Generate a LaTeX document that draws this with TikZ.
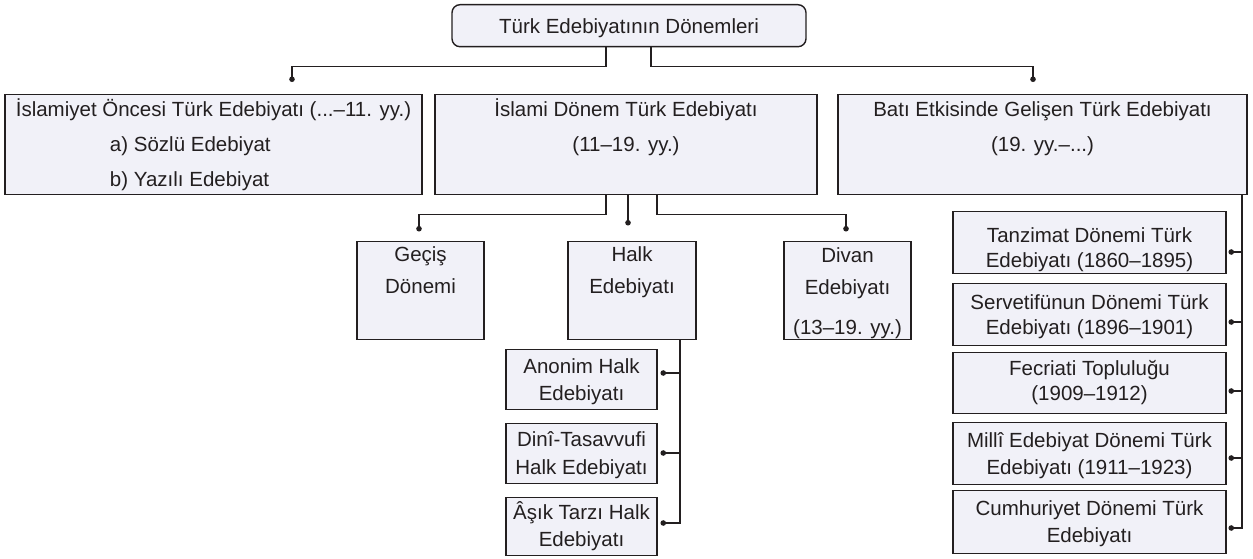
\documentclass[tikz,border=0pt]{standalone}
\usepackage{fontspec}
\setmainfont{Liberation Sans}
\usetikzlibrary{arrows.meta}

\definecolor{zemin}{RGB}{241,241,248}
\definecolor{murekkep}{RGB}{35,31,32}

\tikzset{
  kutu/.style={draw=murekkep, fill=zemin, line width=1.4pt, anchor=north, align=center,
    inner xsep=0pt, inner ysep=0pt, text=murekkep},
  satir/.style={font=\fontsize{20.5}{#1}\selectfont},
  bag/.style={draw=murekkep, line width=1.3pt, -{Circle[length=5.5pt]}},
}

\begin{document}
\begin{tikzpicture}[x=1pt, y=-1pt]
				\useasboundingbox (0,0) rectangle (1253,559);
				% ust kutu
				\node[kutu, satir=35, rounded corners=8pt, minimum width=354pt, text height=29pt, text depth=13pt] (TED)at(629, 4) {Türk Edebiyatının Dönemleri};
				% ana donemler (text height: ustten son satirin tabanina)
				\node[kutu, satir=35, minimum width=417pt, text height=92pt, text depth=8pt] (IO)at(213.5, 94) {İslamiyet Öncesi Türk Edebiyatı (...–11. yy.)\\\makebox[207pt][l]{a) Sözlü Edebiyat}\\\makebox[207pt][l]{b) Yazılı Edebiyat}};
				\node[kutu, satir=35, minimum width=382pt, text height=57pt, text depth=43pt] (ID)at(626, 94) {İslami Dönem Türk Edebiyatı\\(11–19. yy.)};
				\node[kutu, satir=35, minimum width=409pt, text height=57pt, text depth=43pt] (BE)at(1042.5, 94) {Batı Etkisinde Gelişen Türk Edebiyatı\\(19. yy.–...)};
				% islami donem
				\node[kutu, satir=32, minimum width=127pt, text height=52pt, text depth=46pt] (GD)at(420.5, 241) {Geçiş\\Dönemi};
				\node[kutu, satir=32, minimum width=128pt, text height=52pt, text depth=46pt] (HE)at(632, 241) {Halk\\Edebiyatı};
				\node[kutu, satir=32, minimum width=127pt, text height=93pt, text depth=5pt] (DE)at(847.5, 241) {Divan\\Edebiyatı\\[8pt](13–19. yy.)};
				% halk edebiyati
				\node[kutu, satir=27, minimum width=151pt, text height=51pt, text depth=9pt] (AH)at(581.5, 349) {Anonim Halk\\Edebiyatı};
				\node[kutu, satir=28, minimum width=151pt, text height=51pt, text depth=9pt] (DT)at(581.5, 423) {Dinî-Tasavvufi\\Halk Edebiyatı};
				\node[kutu, satir=27, minimum width=151pt, text height=49pt, text depth=9pt] (AT)at(581.5, 497) {Âşık Tarzı Halk\\Edebiyatı};
				% bati etkisinde
				\node[kutu, satir=25, minimum width=273pt, text height=56pt, text depth=6pt] (TZ)at(1089.5, 211) {Tanzimat Dönemi Türk\\Edebiyatı (1860–1895)};
				\node[kutu, satir=25, minimum width=273pt, text height=51pt, text depth=11pt] (SF)at(1089.5, 283) {Servetifünun Dönemi Türk\\Edebiyatı (1896–1901)};
				\node[kutu, satir=25, minimum width=273pt, text height=48pt, text depth=13pt] (FA)at(1089.5, 352) {Fecriati Topluluğu\\(1909–1912)};
				\node[kutu, satir=27, minimum width=273pt, text height=52pt, text depth=10pt] (ME)at(1089.5, 422) {Millî Edebiyat Dönemi Türk\\Edebiyatı (1911–1923)};
				\node[kutu, satir=27, minimum width=273pt, text height=52pt, text depth=11pt] (CD)at(1089.5, 490) {Cumhuriyet Dönemi Türk\\Edebiyatı};
				% uc noktalari
				\coordinate (nIO) at (292, 82);
				\coordinate (nBE) at (1033, 82);
				\coordinate (nGD) at (419, 231.5);
				\coordinate (nHE) at (628, 225.5);
				\coordinate (nDE) at (846, 231.5);
				\coordinate (nAH) at (660.5, 373);
				\coordinate (nDT) at (660.5, 453);
				\coordinate (nAT) at (660.5, 523);
				\coordinate (nTZ) at (1228.5, 252);
				\coordinate (nSF) at (1228.5, 322);
				\coordinate (nFA) at (1228.5, 391);
				\coordinate (nME) at (1228.5, 458);
				\coordinate (nCD) at (1228.5, 528);
				% baglantilar
				\draw[bag] ([xshift=-23pt]TED.south) -- ++(0, 19) -| (nIO);
				\draw[bag] ([xshift=22pt]TED.south) -- ++(0, 19) -| (nBE);
				\draw[bag] ([xshift=-20pt]ID.south) -- ++(0, 19) -| (nGD);
				\draw[bag] ([xshift=2pt]ID.south) -- (nHE);
				\draw[bag] ([xshift=31pt]ID.south) -- ++(0, 19) -| (nDE);
				\draw[bag] ([xshift=48pt]HE.south) |- (nAH);
				\draw[bag] ([xshift=48pt]HE.south) |- (nDT);
				\draw[bag] ([xshift=48pt]HE.south) |- (nAT);
				\draw[bag] ([xshift=199.5pt]BE.south) |- (nTZ);
				\draw[bag] ([xshift=199.5pt]BE.south) |- (nSF);
				\draw[bag] ([xshift=199.5pt]BE.south) |- (nFA);
				\draw[bag] ([xshift=199.5pt]BE.south) |- (nME);
				\draw[bag] ([xshift=199.5pt]BE.south) |- (nCD);
			\end{tikzpicture}
\end{document}
